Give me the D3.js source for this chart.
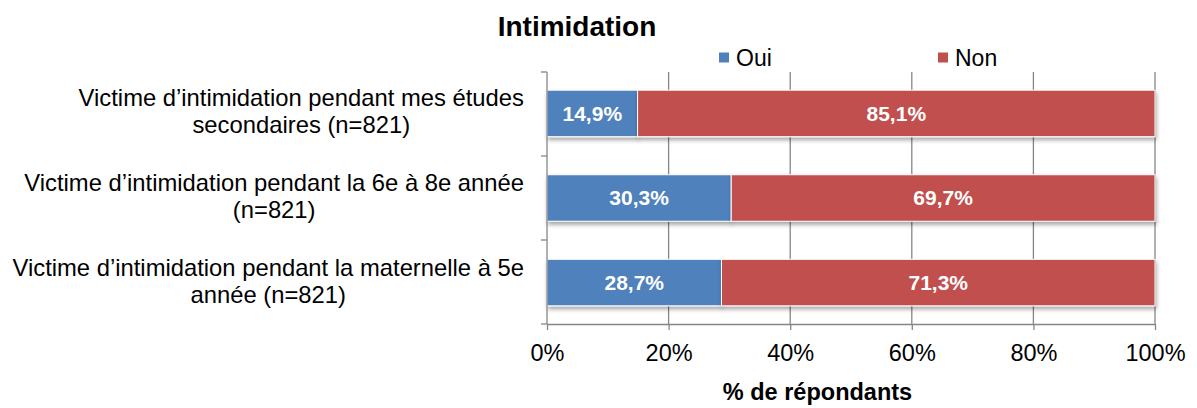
<!DOCTYPE html>
<html><head><meta charset="utf-8">
<script src="https://cdn.jsdelivr.net/npm/d3@7"></script>
<style>body{margin:0;background:#fff;font-family:"Liberation Sans",Arial,sans-serif;}</style>
</head><body><svg id="c" width="1197" height="408"></svg>
<script>
const categories = [
  ["Victime d’intimidation pendant mes études", "secondaires (n=821)"],
  ["Victime d’intimidation pendant la 6e à 8e année", "(n=821)"],
  ["Victime d’intimidation pendant la maternelle à 5e", "année (n=821)"]
];
const seriesNames = ["Oui", "Non"];
const oui = [14.9, 30.3, 28.7];
const non = [85.1, 69.7, 71.3];
const colors = ["#4F81BD", "#C0504D"];
const xTicks = [0, 20, 40, 60, 80, 100];

const svg = d3.select("#c");
const m = {l: 547, r: 1155, t: 72, b: 324};
const x = d3.scaleLinear().domain([0, 100]).range([m.l, m.r]);
const y = d3.scaleBand().domain(d3.range(categories.length)).range([m.t, m.b]).paddingInner(0.45).paddingOuter(0.215);

const defs = svg.append("defs");
const f = defs.append("filter").attr("id", "sh").attr("x", "-5%").attr("y", "-20%").attr("width", "110%").attr("height", "160%");
f.append("feDropShadow").attr("dx", 1).attr("dy", 3).attr("stdDeviation", 2).attr("flood-color", "#000").attr("flood-opacity", 0.35);

// gridlines
svg.append("g").selectAll("line").data(xTicks.slice(1)).join("line")
  .attr("x1", d => x(d)).attr("x2", d => x(d)).attr("y1", m.t).attr("y2", m.b)
  .attr("stroke", "#868686").attr("stroke-width", 1.3);

// bars
const rows = categories.map((c, i) => [
  {i, s: 0, x0: 0, v: oui[i]},
  {i, s: 1, x0: oui[i], v: non[i]}
]).flat();
const bars = svg.append("g");
bars.selectAll("rect").data(rows).join("rect")
  .attr("x", d => x(d.x0)).attr("width", d => x(d.x0 + d.v) - x(d.x0))
  .attr("y", d => y(d.i)).attr("height", y.bandwidth())
  .attr("fill", d => colors[d.s]).attr("stroke", "#fff").attr("stroke-width", 1)
  .attr("filter", "url(#sh)");
bars.selectAll("text").data(rows).join("text")
  .attr("x", d => x(d.x0 + d.v / 2)).attr("y", d => y(d.i) + y.bandwidth() / 2)
  .attr("dy", "0.35em").attr("text-anchor", "middle")
  .attr("fill", "#fff").attr("font-weight", "bold").attr("font-size", 21)
  .text(d => d.v.toFixed(1).replace(".", ",") + "%");

// x axis
const xa = svg.append("g").attr("transform", `translate(0,${m.b})`)
  .call(d3.axisBottom(x).tickValues(xTicks).tickFormat(d => d + "%").tickSize(6).tickSizeOuter(0));
xa.select(".domain").attr("stroke", "#868686").attr("stroke-width", 1.3);
xa.selectAll(".tick line").attr("stroke", "#868686").attr("stroke-width", 1.3);
xa.selectAll("text").attr("font-size", 23.5).attr("font-family", "Liberation Sans, Arial").attr("fill", "#000")
  .attr("y", 37).attr("dy", 0);

// y axis
const yTickPos = d3.range(categories.length + 1).map(i => m.t + i * (m.b - m.t) / categories.length);
svg.append("line").attr("x1", m.l).attr("x2", m.l).attr("y1", m.t).attr("y2", m.b).attr("stroke", "#868686").attr("stroke-width", 1.3);
svg.append("g").selectAll("line").data(yTickPos).join("line")
  .attr("x1", m.l - 6).attr("x2", m.l).attr("y1", d => d).attr("y2", d => d)
  .attr("stroke", "#868686").attr("stroke-width", 1.3);

// category labels
const lab = svg.append("g");
categories.forEach((c, i) => {
  const cy = y(i) + y.bandwidth() / 2;
  const t = lab.append("text").attr("font-size", 23.8).attr("fill", "#000").attr("text-anchor", "middle");
  c.forEach((line, k) => {
    t.append("tspan").attr("x", 0).attr("y", cy + (k - (c.length - 1) / 2) * 27).attr("dy", 6.5).text(line);
  });
  const bb = t.node().getBBox();
  t.attr("transform", `translate(${524 - bb.width / 2},0)`);
});

// title
svg.append("text").attr("x", 577).attr("y", 36).attr("text-anchor", "middle")
  .attr("font-size", 28).attr("font-weight", "bold").text("Intimidation");

// legend
const lg = svg.append("g");
const legX = [719, 938];
seriesNames.forEach((s, i) => {
  lg.append("rect").attr("x", legX[i]).attr("y", 52.5).attr("width", 10).attr("height", 10).attr("fill", colors[i]);
  lg.append("text").attr("x", legX[i] + 17).attr("y", 66).attr("font-size", 23).text(s);
});

// axis title
svg.append("text").attr("x", 817.5).attr("y", 400).attr("text-anchor", "middle")
  .attr("font-size", 23.5).attr("font-weight", "bold").text("% de répondants");
</script></body></html>
